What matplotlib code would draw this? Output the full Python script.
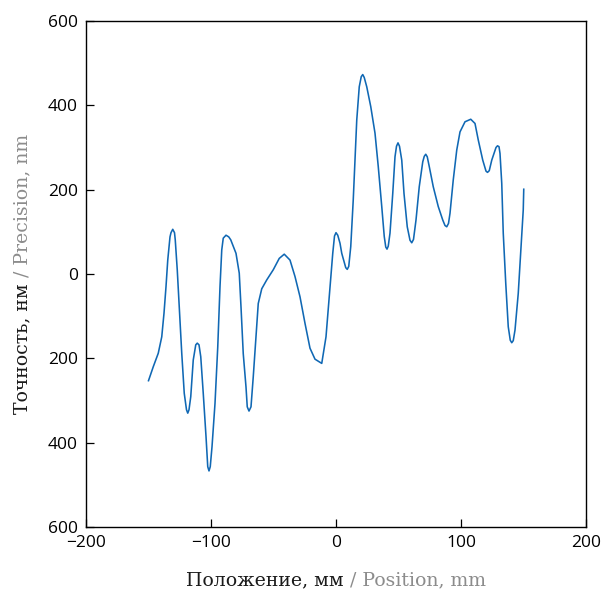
import matplotlib
matplotlib.use("Agg")
import matplotlib.pyplot as plt
from matplotlib.ticker import FuncFormatter

# Data (position in mm, precision in nm)
position_mm = [
    -150.0, -146.2, -142.2, -139.4, -137.6, -136.0, -134.6, -132.8, -132.0, -130.6,
    -129.2, -128.6, -127.0, -125.4, -123.4, -121.4, -119.6, -118.6, -117.6, -116.2,
    -114.2, -112.2, -111.0, -109.6, -108.2, -106.2, -104.0, -102.6, -101.6, -100.6,
    -99.2, -96.8, -94.6, -92.8, -91.4, -90.2, -88.0, -85.8, -84.2, -80.0,
    -77.4, -76.0, -74.2, -72.0, -71.0, -69.6, -68.0, -66.2, -64.0, -62.2,
    -59.4, -55.4, -50.2, -45.4, -41.4, -36.8, -32.8, -28.8, -24.8, -20.8,
    -16.8, -11.4, -8.0, -5.4, -2.6, -1.2, 0.0, 1.4, 3.2, 4.6,
    7.8, 9.0, 10.2, 11.8, 13.8, 15.2, 16.6, 18.6, 20.2, 21.4,
    22.6, 24.6, 27.8, 31.2, 33.8, 36.6, 38.6, 39.8, 40.8, 41.8,
    43.2, 45.4, 47.2, 48.4, 49.6, 50.8, 52.6, 54.4, 57.0, 59.2,
    60.6, 62.0, 64.0, 66.6, 69.4, 70.6, 71.8, 73.0, 74.6, 77.8,
    81.8, 85.4, 87.2, 88.6, 90.0, 91.2, 93.8, 96.6, 99.2, 103.2,
    107.8, 111.2, 113.8, 117.4, 120.0, 121.2, 122.6, 124.6, 128.0, 129.2,
    130.4, 131.2, 132.6, 133.8, 135.8, 137.8, 139.4, 140.6, 141.8, 143.2,
    145.8, 148.0, 149.8, 150.2,
]
precision_nm = [
    -253, -220, -188, -149, -93, -30, 33, 88, 98, 106,
    98, 81, 10, -78, -188, -283, -322, -330, -322, -291,
    -204, -168, -164, -168, -196, -283, -385, -457, -467, -457,
    -410, -307, -173, -30, 57, 85, 92, 88, 81, 49,
    2, -78, -189, -268, -315, -325, -315, -244, -149, -70,
    -35, -14, 10, 37, 47, 33, -6, -54, -117, -176,
    -202, -212, -149, -54, 49, 90, 98, 92, 73, 49,
    15, 11, 18, 65, 176, 270, 365, 444, 468, 473,
    466, 444, 397, 334, 255, 160, 89, 64, 59, 66,
    97, 191, 278, 303, 311, 303, 270, 191, 112, 80,
    74, 82, 128, 207, 266, 279, 284, 278, 255, 207,
    160, 128, 115, 112, 120, 144, 223, 294, 337, 361,
    367, 357, 318, 270, 244, 241, 245, 270, 300, 304,
    302, 286, 215, 97, -22, -125, -157, -163, -158, -133,
    -46, 65, 152, 201,
]

x_ticks = [-200, -100, 0, 100, 200]
y_ticks = [-600, -400, -200, 0, 200, 400, 600]

xlabel_parts = ["Положение, мм", " / Position, mm"]
ylabel_parts = ["Точность, нм", " / Precision, nm"]
label_colors = ["#1a1a1a", "#8c8c8c"]

line_color = "#1068b4"

fig = plt.figure(figsize=(6.16, 5.93), dpi=100)
ax = fig.add_axes([86 / 616, 1 - 527 / 593, 500 / 616, 506 / 593])

ax.plot(position_mm, precision_nm, color=line_color, lw=1.15,
        solid_joinstyle="round")

ax.set_xlim(-200, 200)
ax.set_ylim(-600, 600)
ax.set_xticks(x_ticks)
ax.set_yticks(y_ticks)
ax.yaxis.set_major_formatter(FuncFormatter(lambda v, p: f"{abs(int(round(v)))}"))

for s in ax.spines.values():
    s.set_linewidth(1.0)
    s.set_color("black")

ax.tick_params(direction="in", length=6, width=0.9, top=False, right=False,
               labelsize=12.5, colors="black")
ax.tick_params(axis="y", pad=6)
ax.tick_params(axis="x", pad=6)
for lab in ax.get_xticklabels() + ax.get_yticklabels():
    lab.set_family(["Open Sans", "DejaVu Sans"])

serif = ["DejaVu Serif"]
fs = 13.6

fig.canvas.draw()
r = fig.canvas.get_renderer()

def text_width(s):
    t = fig.text(0, 0, s, fontsize=fs, family=serif)
    w = t.get_window_extent(r).width
    t.remove()
    return w

W, H = fig.get_size_inches() * fig.dpi

# x label
full = "".join(xlabel_parts)
wf = text_width(full)
cx = 336
x0 = cx - wf / 2
yl = 580
fig.text(x0 / W, 1 - yl / H, xlabel_parts[0], fontsize=fs, family=serif,
         color=label_colors[0], ha="left", va="center")
fig.text((x0 + wf) / W, 1 - yl / H, xlabel_parts[1].lstrip(), fontsize=fs, family=serif,
         color=label_colors[1], ha="right", va="center")

# y label
full = "".join(ylabel_parts)
wf = text_width(full)
cy = 274
y0 = cy + wf / 2
xl = 22
fig.text(xl / W, 1 - y0 / H, ylabel_parts[0], fontsize=fs, family=serif,
         color=label_colors[0], rotation=90, rotation_mode="anchor",
         ha="left", va="center")
fig.text(xl / W, 1 - (y0 - wf) / H, ylabel_parts[1].lstrip(), fontsize=fs, family=serif,
         color=label_colors[1], rotation=90, rotation_mode="anchor",
         ha="right", va="center")

fig.savefig("out.png", dpi=100)
